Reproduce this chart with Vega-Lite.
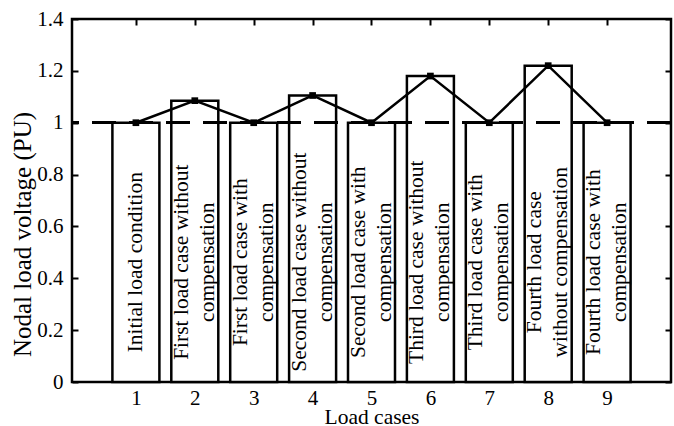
{
  "$schema": "https://vega.github.io/schema/vega-lite/v6.json",
  "width": 599,
  "height": 363,
  "autosize": {"type": "none"},
  "padding": {"left": 72, "top": 19, "right": 3, "bottom": 44},
  "background": "white",
  "config": {
    "view": {"stroke": "black", "strokeWidth": 2.5},
    "font": "Liberation Serif",
    "axis": {
      "labelFont": "Liberation Serif",
      "labelFontSize": 21,
      "labelColor": "black",
      "titleFont": "Liberation Serif",
      "titleFontSize": 21.5,
      "titleFontWeight": "normal",
      "titleColor": "black",
      "tickColor": "black",
      "tickWidth": 2,
      "tickSize": 6,
      "offset": -6,
      "domain": false,
      "grid": false,
      "zindex": 1
    }
  },
  "data": {
    "values": [
      {"case": 1, "voltage": 1.0, "label": "Initial load condition"},
      {"case": 2, "voltage": 1.085, "label": "First load case without|compensation"},
      {"case": 3, "voltage": 1.0, "label": "First load case with|compensation"},
      {"case": 4, "voltage": 1.105, "label": "Second load case without|compensation"},
      {"case": 5, "voltage": 1.0, "label": "Second load case with|compensation"},
      {"case": 6, "voltage": 1.18, "label": "Third load case without|compensation"},
      {"case": 7, "voltage": 1.0, "label": "Third load case with|compensation"},
      {"case": 8, "voltage": 1.22, "label": "Fourth load case|without compensation"},
      {"case": 9, "voltage": 1.0, "label": "Fourth load case with|compensation"}
    ]
  },
  "layer": [
    {
      "mark": {"type": "bar", "fill": "white", "stroke": "black", "strokeWidth": 2.5, "width": 47},
      "encoding": {
        "x": {
          "field": "case", "type": "quantitative",
          "scale": {"domain": [0, 10], "nice": false, "zero": false},
          "axis": {"orient": "bottom", "values": [1, 2, 3, 4, 5, 6, 7, 8, 9], "format": "d", "labelPadding": 5, "title": "Load cases", "titleBaseline": "alphabetic", "titlePadding": 15, "labelFlush": false}
        },
        "y": {
          "field": "voltage", "type": "quantitative",
          "scale": {"domain": [0, 1.4], "nice": false},
          "axis": {"orient": "left", "values": [0, 0.2, 0.4, 0.6, 0.8, 1, 1.2, 1.4], "format": "~g", "labelPadding": 9, "title": "Nodal load voltage (PU)", "titleFontSize": 25, "titlePadding": 1, "titleY": 215, "labelFlush": false}
        }
      }
    },
    {
      "transform": [{"filter": "indexof(datum.label, '|') < 0"}],
      "mark": {"type": "text", "angle": 270, "align": "center", "baseline": "middle", "fontSize": 21.5, "lineBreak": "|", "lineHeight": 26, "font": "Liberation Serif", "color": "black"},
      "encoding": {
        "x": {"field": "case", "type": "quantitative", "axis": null},
        "y": {"datum": 0.462, "type": "quantitative", "axis": null},
        "text": {"field": "label"}
      }
    },
    {
      "transform": [{"filter": "indexof(datum.label, '|') >= 0"}],
      "mark": {"type": "text", "angle": 270, "align": "center", "baseline": "middle", "fontSize": 21.5, "lineBreak": "|", "lineHeight": 26, "dy": -13, "font": "Liberation Serif", "color": "black"},
      "encoding": {
        "x": {"field": "case", "type": "quantitative", "axis": null},
        "y": {"datum": 0.462, "type": "quantitative", "axis": null},
        "text": {"field": "label"}
      }
    },
    {
      "mark": {"type": "rule", "strokeDash": [24, 13], "strokeWidth": 2.5, "color": "black"},
      "encoding": {
        "y": {"datum": 1, "type": "quantitative", "axis": null}
      }
    },
    {
      "mark": {"type": "line", "color": "black", "strokeWidth": 2.5},
      "encoding": {
        "x": {"field": "case", "type": "quantitative", "axis": {"orient": "top", "values": [1, 2, 3, 4, 5, 6, 7, 8, 9], "labels": false, "title": null}},
        "y": {"field": "voltage", "type": "quantitative", "axis": {"orient": "right", "values": [0, 0.2, 0.4, 0.6, 0.8, 1, 1.2, 1.4], "labels": false, "title": null}}
      }
    },
    {
      "mark": {"type": "square", "color": "black", "size": 45, "filled": true, "opacity": 1},
      "encoding": {
        "x": {"field": "case", "type": "quantitative", "axis": null},
        "y": {"field": "voltage", "type": "quantitative", "axis": null}
      }
    }
  ],
  "resolve": {"axis": {"x": "independent", "y": "independent"}}
}
